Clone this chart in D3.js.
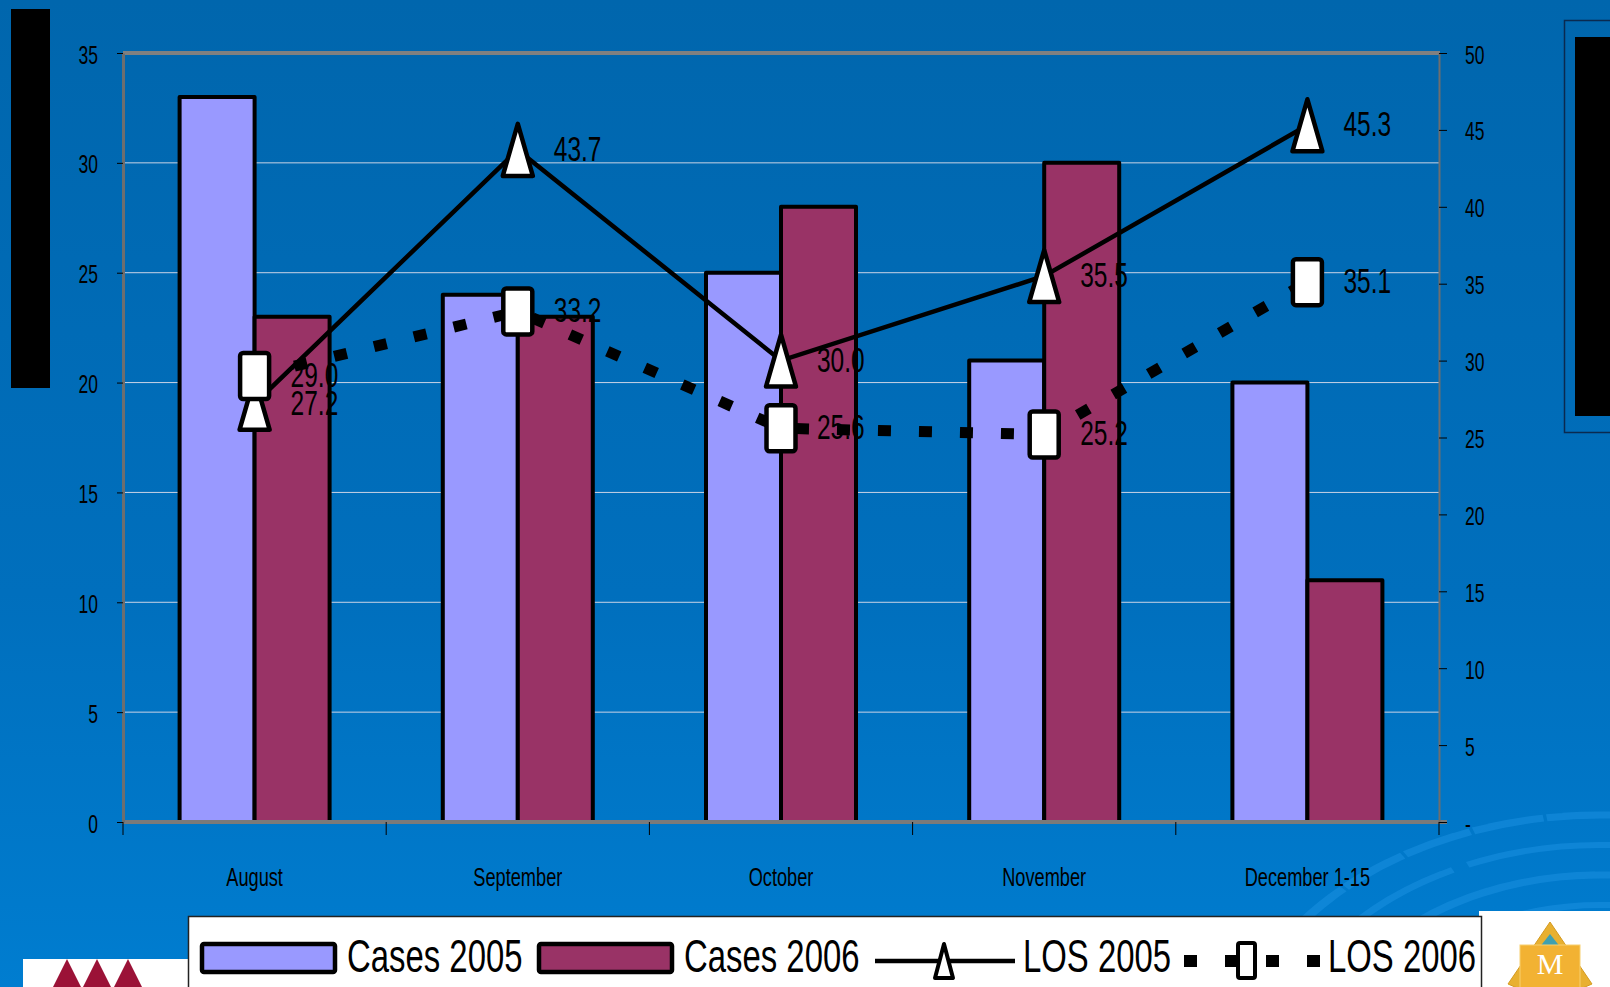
<!DOCTYPE html>
<html><head><meta charset="utf-8">
<script src="https://cdn.jsdelivr.net/npm/d3@7"></script>
<style>
html,body{margin:0;padding:0;overflow:hidden;background:#0070bd;}
text{font-family:"Liberation Sans",Arial,sans-serif;fill:#000;}
</style></head>
<body>
<svg id="chart" width="1610" height="987"></svg>
<script>
// ---- data ----
const categories = ["August","September","October","November","December 1-15"];
const cases2005 = [33,24,25,21,20];
const cases2006 = [23,23,28,30,11];
const los2005 = [27.2,43.7,30.0,35.5,45.3];
const los2006 = [29.0,33.2,25.6,25.2,35.1];
const leftTicks = [0,5,10,15,20,25,30,35];
const rightTicks = [0,5,10,15,20,25,30,35,40,45,50];
const seriesNames = ["Cases 2005","Cases 2006","LOS 2005","LOS 2006"];

const SX = 0.7; // condensed text
const svg = d3.select("#chart");
const W = 1610, H = 987;
const M = {left:123, right:1439, top:53, bottom:822};

// background
const defs = svg.append("defs");
const grad = defs.append("linearGradient").attr("id","bg").attr("x1",0).attr("y1",0).attr("x2",0).attr("y2",1);
grad.append("stop").attr("offset","0%").attr("stop-color","#0066ad");
grad.append("stop").attr("offset","60%").attr("stop-color","#006fbd");
grad.append("stop").attr("offset","100%").attr("stop-color","#007dd0");
svg.append("rect").attr("width",W).attr("height",H).attr("fill","url(#bg)");

// decorative swirls bottom right
const sw = svg.append("g").attr("fill","none").attr("stroke","#1a8fe0").attr("stroke-opacity",0.55);
const arcGen = d3.arc();
[[265,7,"40 14"],[235,6,"120 20"],[205,7,"60 18"],[175,6,"90 25"],[145,6,"50 16"],[115,5,"70 20"]].forEach(([r,w,da])=>{
  sw.append("path").attr("transform","translate(1600,1080) scale(1.4,1)")
    .attr("d",arcGen({innerRadius:r,outerRadius:r,startAngle:-Math.PI*0.5,endAngle:Math.PI*0.05}))
    .attr("stroke-width",w).attr("stroke-dasharray",da);
});

// black rects (masked areas)
svg.append("rect").attr("x",11).attr("y",9).attr("width",39).attr("height",379).attr("fill","#000");
svg.append("rect").attr("x",1564.5).attr("y",20.5).attr("width",60).attr("height",412).attr("fill","none").attr("stroke","#0a2a50").attr("stroke-width",1.5);
svg.append("rect").attr("x",1575).attr("y",37).attr("width",40).attr("height",379).attr("fill","#000");

// scales
const x0 = d3.scaleBand().domain(categories).range([M.left,M.right]).padding(0);
const bw = x0.bandwidth();
const x1 = d3.scaleBand().domain(["c2005","c2006"]).range([bw/2-75, bw/2+75]).padding(0);
const yL = d3.scaleLinear().domain([0,35]).range([M.bottom,M.top]);
const yR = d3.scaleLinear().domain([0,50]).range([M.bottom,M.top]);

// gridlines
svg.append("g").selectAll("line").data(leftTicks.filter(t=>t>0&&t<35)).join("line")
  .attr("x1",M.left).attr("x2",M.right).attr("y1",d=>yL(d)).attr("y2",d=>yL(d))
  .attr("stroke","#c9d3e6").attr("stroke-width",1);

// bars
const barData = categories.map((c,i)=>[{c,k:"c2005",v:cases2005[i],f:"#9999ff"},{c,k:"c2006",v:cases2006[i],f:"#993366"}]).flat();
svg.append("g").selectAll("rect").data(barData).join("rect")
  .attr("x",d=>x0(d.c)+x1(d.k)).attr("width",x1.bandwidth())
  .attr("y",d=>yL(d.v)).attr("height",d=>yL(0)-yL(d.v))
  .attr("fill",d=>d.f).attr("stroke","#000").attr("stroke-width",4).attr("stroke-linejoin","round");

// frame lines
svg.append("line").attr("x1",M.left).attr("x2",M.right+1).attr("y1",M.top).attr("y2",M.top).attr("stroke","#808080").attr("stroke-width",4);
svg.append("line").attr("x1",M.left-1).attr("x2",M.right+8).attr("y1",M.bottom).attr("y2",M.bottom).attr("stroke","#7a7a7a").attr("stroke-width",4);

// left axis
const axL = svg.append("g").attr("transform",`translate(${M.left},0)`)
  .call(d3.axisLeft(yL).tickValues(leftTicks).tickSize(6).tickSizeOuter(0));
axL.select(".domain").attr("stroke","#6e6e6e").attr("stroke-width",3);
axL.selectAll(".tick line").attr("stroke","#000");
axL.selectAll(".tick text").attr("x",-25/SX).attr("dy","0.4em").attr("transform",`scale(${SX},1)`)
  .style("font-size","25px").style("font-family","Liberation Sans, Arial").attr("fill","#000");

// right axis
const axR = svg.append("g").attr("transform",`translate(${M.right},0)`)
  .call(d3.axisRight(yR).tickValues(rightTicks).tickSize(8).tickSizeOuter(0).tickFormat(d=>d===0?"-":d));
axR.select(".domain").attr("stroke","#6e6e6e").attr("stroke-width",2);
axR.selectAll(".tick line").attr("stroke","#000");
axR.selectAll(".tick text").attr("x",26/SX).attr("dy","0.4em").attr("transform",`scale(${SX},1)`)
  .style("font-size","25px").style("font-family","Liberation Sans, Arial").attr("fill","#000");

// bottom axis (labels)
const axB = svg.append("g").attr("transform",`translate(0,${M.bottom})`)
  .call(d3.axisBottom(x0).tickSize(0).tickSizeOuter(0));
axB.select(".domain").remove();
axB.selectAll(".tick text").attr("y",0).attr("dy","2.47em").attr("x",0).attr("transform",`scale(${SX},1)`)
  .style("font-size","26px").style("font-family","Liberation Sans, Arial").attr("fill","#000");
// category boundary ticks
svg.append("g").selectAll("line").data(categories.map(c=>x0(c)).concat([M.right])).join("line")
  .attr("x1",d=>d).attr("x2",d=>d).attr("y1",M.bottom).attr("y2",M.bottom+13)
  .attr("stroke","#000").attr("stroke-width",1);

// lines
const cx = c => x0(c)+bw/2;
const lineGen = d3.line().x(d=>cx(d.c)).y(d=>yR(d.v));
const l05 = categories.map((c,i)=>({c,v:los2005[i]}));
const l06 = categories.map((c,i)=>({c,v:los2006[i]}));
svg.append("path").datum(l05).attr("d",lineGen).attr("fill","none").attr("stroke","#000").attr("stroke-width",4.5);
const triPath = (w,h)=>`M0,${-h/2}L${w/2},${h/2}L${-w/2},${h/2}Z`;
svg.append("g").selectAll("path").data(l05).join("path")
  .attr("transform",d=>`translate(${cx(d.c)},${yR(d.v)})`)
  .attr("d",triPath(30,52)).attr("fill","#fff").attr("stroke","#000").attr("stroke-width",4.5).attr("stroke-linejoin","round");

svg.append("path").datum(l06).attr("d",lineGen).attr("fill","none").attr("stroke","#000").attr("stroke-width",11).attr("stroke-dasharray","13,28");
svg.append("g").selectAll("rect").data(l06).join("rect")
  .attr("x",d=>cx(d.c)-14.5).attr("y",d=>yR(d.v)-23).attr("width",29).attr("height",46).attr("rx",3)
  .attr("fill","#fff").attr("stroke","#000").attr("stroke-width",4.5);

// data labels
const labels = l05.map(d=>({...d})).concat(l06.map(d=>({...d})));
svg.append("g").selectAll("text").data(labels).join("text")
  .attr("transform",d=>`translate(${cx(d.c)+36},${yR(d.v)+11}) scale(${SX},1)`)
  .style("font-size","35px").text(d=>d.v.toFixed(1));

// bottom-left logo
svg.append("rect").attr("x",23).attr("y",959).attr("width",170).attr("height",30).attr("fill","#fff");
svg.append("g").selectAll("path").data([67,97,128]).join("path")
  .attr("d",d=>`M${d},959 L${d+14},987 L${d-14},987Z`).attr("fill","#9b1237");

// bottom-right logo
svg.append("rect").attr("x",1479).attr("y",911).attr("width",140).attr("height",80).attr("fill","#fff");
const lg = svg.append("g").attr("transform","translate(1550,922)");
lg.append("path").attr("d","M0,0 L42,62 L0,80 L-42,62Z").attr("fill","#e8b030").attr("stroke","#d49a20");
lg.append("path").attr("d","M0,12 L22,40 L-22,40Z").attr("fill","#3fa0b0");
lg.append("rect").attr("x",-30).attr("y",23).attr("width",60).attr("height",48).attr("fill","#f2b233").attr("stroke","#f8d070");
lg.append("text").attr("x",0).attr("y",52).attr("text-anchor","middle").style("font-family","Liberation Serif, serif").style("font-size","30px").style("fill","#fff").text("M");

// legend
const lgd = svg.append("g");
lgd.append("rect").attr("x",188.5).attr("y",916.5).attr("width",1293).attr("height",90).attr("fill","#fff").attr("stroke","#222").attr("stroke-width",1.5);
const legendSw = [{n:seriesNames[0],x:202,f:"#9999ff",tx:347},{n:seriesNames[1],x:539,f:"#993366",tx:684}];
lgd.selectAll("rect.sw").data(legendSw).join("rect").attr("class","sw")
  .attr("x",d=>d.x).attr("y",944).attr("width",133).attr("height",28)
  .attr("fill",d=>d.f).attr("stroke","#000").attr("stroke-width",4.5).attr("rx",2);
lgd.selectAll("text.sw").data(legendSw).join("text").attr("class","sw")
  .attr("transform",d=>`translate(${d.tx},972) scale(${SX},1)`).style("font-size","47px").text(d=>d.n);
// LOS 2005 legend
lgd.append("line").attr("x1",875).attr("x2",1015).attr("y1",961).attr("y2",961).attr("stroke","#000").attr("stroke-width",4.5);
lgd.append("path").attr("transform","translate(944,961)").attr("d",triPath(18,34)).attr("fill","#fff").attr("stroke","#000").attr("stroke-width",4).attr("stroke-linejoin","round");
lgd.append("text").attr("transform",`translate(1023,972) scale(${SX},1)`).style("font-size","47px").text(seriesNames[2]);
// LOS 2006 legend
lgd.append("line").attr("x1",1184).attr("x2",1322).attr("y1",961).attr("y2",961).attr("stroke","#000").attr("stroke-width",12).attr("stroke-dasharray","13,28");
lgd.append("rect").attr("x",1238).attr("y",943).attr("width",17).attr("height",35).attr("rx",2).attr("fill","#fff").attr("stroke","#000").attr("stroke-width",4);
lgd.append("text").attr("transform",`translate(1328,972) scale(${SX},1)`).style("font-size","47px").text(seriesNames[3]);
</script>
</body></html>
